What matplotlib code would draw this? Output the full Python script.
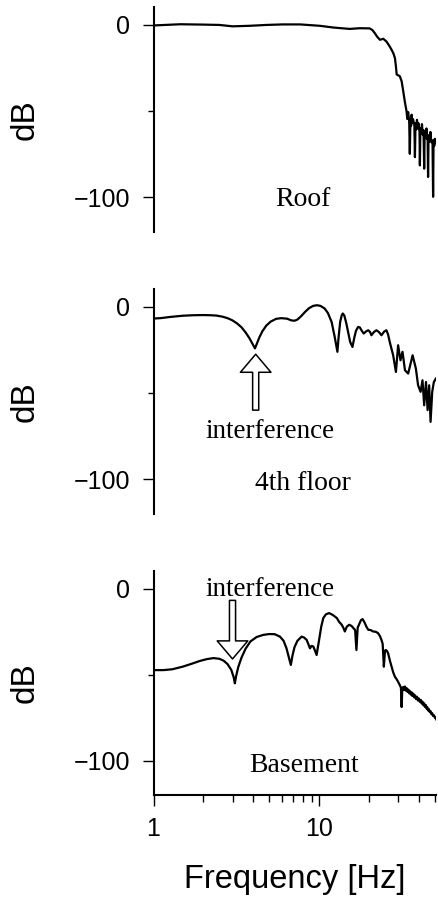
import matplotlib
matplotlib.use("Agg")
import matplotlib.pyplot as plt
from matplotlib.patches import FancyArrowPatch

# ---- transfer-function magnitudes (frequency in Hz, level in dB) ----
roof_freq = [1.0, 1.45, 2.0, 2.5, 3.0, 3.8, 4.8, 6.0, 7.7, 10.1, 12.2, 15.3,
             17.6, 20.2, 21.0, 21.7, 22.5, 23.3, 24.4, 25.5, 26.5, 27.4, 28.1,
             28.7, 29.1, 29.4, 30.7, 31.5, 32.2, 33.0, 33.7, 34.1, 34.5, 35.0, 35.3,
             35.6, 35.9, 36.2, 36.5, 36.9, 37.6, 37.9,
             38.2, 38.6, 39.0, 39.4, 39.8, 40.4, 40.6, 40.9,
             41.3, 41.8, 42.2, 42.7, 43.1, 43.4, 43.9, 44.5, 44.9, 45.2, 45.5, 45.8,
             46.4, 47.0, 47.6, 48.4, 48.8, 49.1, 49.6, 50.0, 50.8]
roof_db = [-0.3, 0.4, 0.2, 0.0, -0.8, -0.5, 0.0, 0.3, 0.3, -0.5, -1.5, -2.3,
           -1.9, -2.0, -3.0, -4.8, -7.0, -8.6, -8.0, -9.6, -12.0, -14.4, -16.5,
           -19.2, -24.0, -28.7, -29.7, -32.6, -38.3, -45.0, -49.8, -54.5, -50.5, -56.0, -74.7,
           -55.0, -58.5, -52.0, -57.0, -54.6, -58.0, -76.6,
           -57.0, -60.5, -55.0, -60.0, -57.0, -62.0, -81.4, -60.0,
           -63.0, -57.5, -63.5, -61.0, -83.3, -62.0, -65.5, -60.0, -66.0, -64.0, -88.1, -64.0,
           -67.5, -62.0, -68.0, -67.0, -99.6, -67.0, -70.0, -66.0, -68.0]

floor4_freq = [1.0, 1.1, 1.26, 1.5, 1.74, 2.0, 2.2, 2.4, 2.6, 2.8, 3.0, 3.2,
               3.4, 3.6, 3.8, 3.95, 4.1, 4.2, 4.35, 4.55, 4.8, 5.1, 5.5, 5.9,
               6.4, 6.8, 7.1, 7.4, 7.8, 8.2, 8.7, 9.2, 9.7, 10.2, 10.8, 11.3,
               11.9, 12.4, 12.9, 13.1, 13.4, 13.7, 13.9, 14.2, 14.6, 15.0, 15.4,
               15.9, 16.3, 16.7, 17.2, 17.6, 18.1, 18.6, 19.2, 19.8, 20.3, 20.7,
               21.4, 22.2, 23.0, 23.8, 24.7, 25.5, 26.1, 26.7, 28.0, 29.1, 30.0,
               31.0, 31.9, 33.0, 34.5, 36.7, 38.4, 39.6, 41.0, 42.1, 43.1, 44.2,
               45.2, 46.2, 47.1, 48.2, 49.3, 50.7]
floor4_db = [-6.7, -6.5, -5.8, -5.1, -4.8, -4.7, -4.8, -5.0, -5.6, -6.5, -7.8, -9.6,
             -11.8, -14.8, -18.2, -21.2, -24.0, -21.5, -17.8, -14.0, -10.8, -8.5, -6.9, -6.5,
             -6.8, -7.8, -8.0, -7.3, -5.3, -3.0, -0.7, 0.6, 1.0, 0.6, -0.9, -3.5,
             -8.7, -17.0, -26.0, -18.0, -8.7, -4.8, -3.8, -5.0, -9.5, -15.0, -20.3,
             -23.2, -18.0, -13.8, -11.6, -11.8, -13.8, -15.4, -14.2, -13.5, -14.5, -16.4,
             -14.6, -13.5, -14.6, -16.4, -14.3, -13.5, -16.0, -20.3, -28.0, -37.7, -22.2,
             -30.9, -26.0, -36.7, -38.6, -28.0, -35.7, -45.4, -49.2, -42.5, -57.0, -43.5,
             -59.8, -45.4, -66.6, -49.2, -43.5, -41.5]

base_freq = [1.0, 1.15, 1.3, 1.5, 1.7, 1.9, 2.1, 2.3, 2.5, 2.65, 2.8, 2.95,
             3.05, 3.1, 3.15, 3.25, 3.4, 3.6, 3.85, 4.2, 4.6, 5.0, 5.4, 5.8,
             6.1, 6.35, 6.55, 6.75, 6.9, 7.1, 7.4, 7.84, 8.1, 8.41, 8.81, 9.0,
             9.23, 9.45, 9.66, 10.0, 10.3, 10.6, 11.0, 11.5, 12.1, 12.8, 13.2,
             13.7, 14.0, 14.3, 14.7, 15.2, 15.7, 16.1, 16.5, 16.8, 17.1, 17.4,
             17.9, 18.3, 18.8, 19.3, 19.8, 20.5, 21.2, 22.0, 22.7, 23.3, 23.8,
             24.2, 24.6, 25.0, 25.3, 25.7, 26.1, 26.8, 27.4, 28.0, 28.7, 29.3,
             30.0, 30.7, 31.2, 31.5, 31.8, 32.2, 32.6, 33.0, 33.4, 33.8, 34.2,
             34.6, 35.0, 35.3, 35.8, 36.2, 36.6, 37.1, 37.5, 38.0, 38.5, 39.0,
             39.5, 40.0, 40.6, 41.1, 41.6, 42.1, 42.6, 43.1, 43.6, 44.1, 44.6,
             45.0, 45.5, 46.0, 46.6, 47.1, 47.7, 48.2, 48.8, 49.4, 50.0, 50.5, 51.0]
base_db = [-47.3, -47.3, -46.8, -45.3, -43.6, -42.0, -40.9, -40.3, -40.7, -41.8, -43.8, -47.2,
           -51.5, -55.0, -51.0, -45.5, -40.0, -34.8, -30.6, -28.0, -26.8, -26.3, -26.4, -27.8,
           -30.2, -34.5, -39.5, -44.3, -39.0, -34.0, -30.2, -27.8, -28.3, -29.7, -34.6, -33.2,
           -33.6, -36.0, -38.5, -29.7, -22.0, -17.0, -14.8, -14.1, -15.2, -17.0, -19.2,
           -20.9, -22.6, -24.8, -22.0, -20.9, -21.6, -22.8, -24.0, -35.6, -22.5, -20.9,
           -18.2, -17.6, -19.5, -22.0, -23.8, -24.0, -24.8, -25.0, -25.8, -27.5, -29.7,
           -32.0, -45.3, -36.0, -35.6, -36.2, -37.5, -42.0, -45.3, -48.5, -51.2, -52.4,
           -54.1, -56.0, -57.5, -68.8, -58.0, -57.1, -58.8, -56.8, -59.3, -57.8, -60.0,
           -58.6, -60.8, -59.4, -61.6, -60.2, -62.4, -61.0, -63.2, -62.0, -64.2, -62.8,
           -65.0, -63.8, -65.8, -64.6, -66.8, -65.6, -67.8, -66.6, -68.8, -67.6, -69.8,
           -68.8, -70.8, -70.0, -71.8, -71.2, -73.0, -72.4, -74.0, -73.6, -75.0, -75.0, -76.0]

panel_names = ["Roof", "4th floor", "Basement"]
y_ticks = [0, -100]
x_tick_labels = ["1", "10"]

SANS = "Liberation Sans"
SERIF = "Liberation Serif"

W, H = 438, 902
fig = plt.figure(figsize=(W / 100, H / 100), dpi=100)


def axes_px(left, top, right, bottom):
    return fig.add_axes([left / W, 1 - bottom / H, (right - left) / W, (bottom - top) / H])


series = [(roof_freq, roof_db), (floor4_freq, floor4_db), (base_freq, base_db)]
boxes = [(7, 232), (289, 514), (571, 795)]
axes = []
for i, ((f, d), (top, bot)) in enumerate(zip(series, boxes)):
    ax = axes_px(153.5, top, 436, bot)
    ax.plot(f, d, color="black", lw=1.6)
    ax.set_xscale("log")
    ax.set_xlim(1, 50.8)
    ax.set_ylim(-120, 10.4)
    for s in ("top", "right"):
        ax.spines[s].set_visible(False)
    ax.spines["left"].set_linewidth(1.5)
    ax.set_yticks(y_ticks)
    ax.set_yticks([-50], minor=True)
    ax.tick_params(axis="y", which="major", length=8, width=1.0, pad=9,
                   labelsize=18)
    ax.tick_params(axis="y", which="minor", length=4.5, width=1.0)
    for lab in ax.get_yticklabels():
        lab.set_fontfamily(SANS)
    if i < 2:
        ax.spines["bottom"].set_visible(False)
        ax.tick_params(axis="x", which="both", bottom=False, labelbottom=False)
    else:
        ax.spines["bottom"].set_linewidth(1.5)
        ax.set_xticks([1, 10])
        ax.set_xticklabels(x_tick_labels)
        ax.set_xticks([2, 3, 4, 5, 6, 7, 8, 9, 20, 30, 40, 50], minor=True)
        ax.tick_params(axis="x", which="minor", labelbottom=False, length=5, width=1.0)
        ax.tick_params(axis="x", which="major", length=8, width=1.0, pad=8,
                       labelsize=18)
        for lab in ax.get_xticklabels():
            lab.set_fontfamily(SANS)
    axes.append(ax)
    fig.text(25 / W, 1 - ((top + bot) / 2) / H, "dB", rotation=90,
             ha="center", va="center", fontsize=24, family=SANS)

# panel names
name_pos = [(7.96, -105.2), (8.0, -106.2), (8.13, -106.9)]
for ax, name, (x, y) in zip(axes, panel_names, name_pos):
    ax.text(x, y, name, ha="center", va="baseline", fontsize=20, family=SERIF)

# interference markers
arrow_style = "Simple,tail_width=4.4,head_width=22,head_length=13"
ax2 = axes[1]
ax2.text(5.05, -75.7, "interference", ha="center", va="baseline", fontsize=19.5,
         family=SERIF)
ax2.add_patch(FancyArrowPatch((4.14, -59.8), (4.14, -27.4), arrowstyle=arrow_style,
                              mutation_scale=1, fc="white", ec="black", lw=1.1,
                              shrinkA=0, shrinkB=0))
ax3 = axes[2]
ax3.text(5.05, -4.3, "interference", ha="center", va="baseline", fontsize=19.5,
         family=SERIF)
ax3.add_patch(FancyArrowPatch((3.0, -6.7), (3.0, -40.8), arrowstyle=arrow_style,
                              mutation_scale=1, fc="white", ec="black", lw=1.1,
                              shrinkA=0, shrinkB=0))

fig.text(295 / W, 1 - 888 / H, "Frequency [Hz]", ha="center", va="baseline",
         fontsize=23.5, family=SANS)

fig.savefig("out.png", dpi=100)
